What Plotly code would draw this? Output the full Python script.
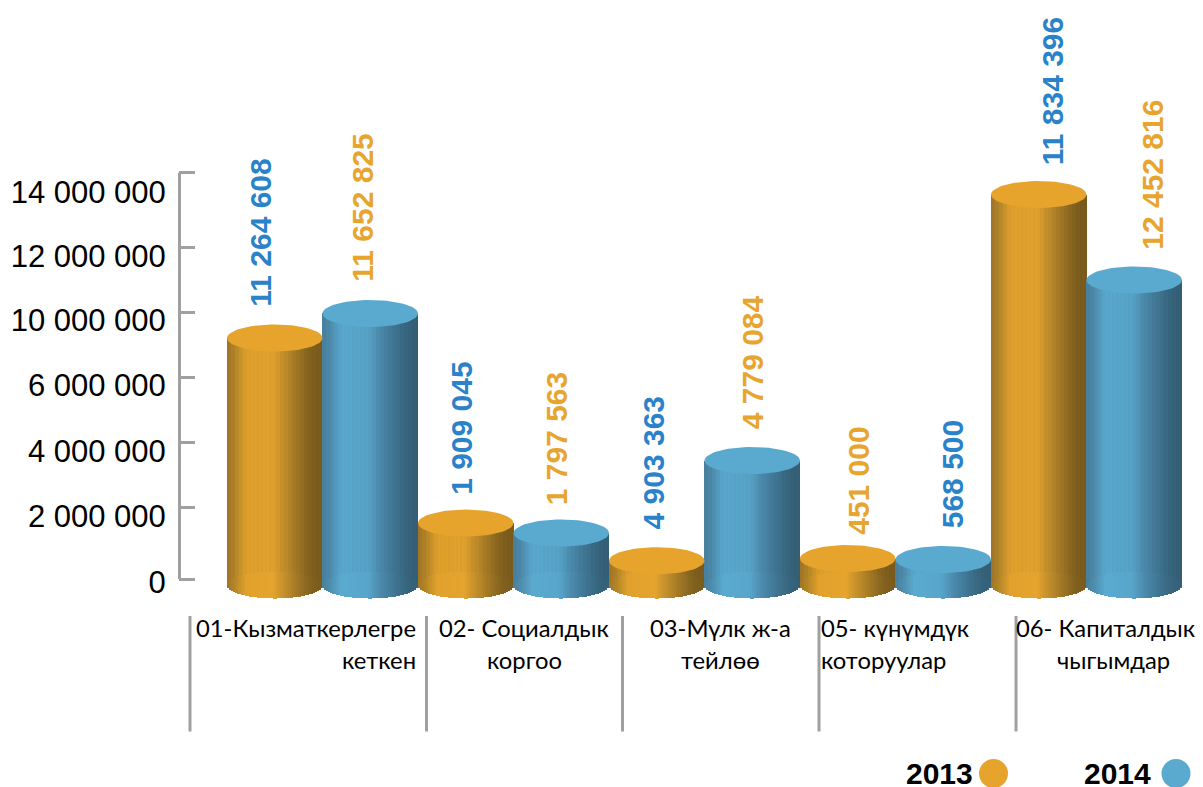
import plotly.graph_objects as go
import math

W, H = 1203, 787

# ---------- data ----------
years = ["2013", "2014"]
# heights of the cylinders, read against the drawn axis
heights_2013 = [7415000, 1720000, 563000, 630000, 11830000]
heights_2014 = [8170000, 1415000, 3646000, 600000, 9200000]
# printed labels (the reference prints them independent of height)
labels_2013 = ["11 264 608", "1 909 045", "4 903 363", "451 000", "11 834 396"]
labels_2014 = ["11 652 825", "1 797 563", "4 779 084", "568 500", "12 452 816"]
label_is_blue_2013 = [True, True, True, False, True]
label_is_blue_2014 = [False, False, False, True, False]
# axis
tick_marks = [0, 2215000, 4215000, 6185000, 8185000, 10185000, 12500000]
tick_label_vals = [-92000, 1938000, 3938000, 5969000, 7969000, 9938000, 11908000]
tick_texts = ["0", "2 000 000", "4 000 000", "6 000 000", "10 000 000", "12 000 000", "14 000 000"]
# category captions
cat_line1 = ["01-Кызматкерлегре", "02- Социалдык", "03-Мүлк ж-а", "05- күнүмдүк", "06- Капиталдык"]
cat_line2 = ["кеткен", "коргоо", "тейлөө", "которуулар", "чыгымдар"]

# ---------- layout constants ----------
ORANGE, BLUE = "#e6a42d", "#5aaad0"
LBL_BLUE, LBL_ORANGE = "#2a82c8", "#e8a52e"
GREY = "#a0a0a0"
PX_PER_UNIT_Y = 65 / 2e6          # pixels per value
Y0_PX = 579
X_C0 = 322.5; X_PITCH = 191        # pixel of category 0, pixels per category
RY = 13.5 / PX_PER_UNIT_Y          # ellipse half height, in value units
BASE = -6 / PX_PER_UNIT_Y          # centre of the bottom ellipse
BAR_W = 0.5
N = 48

grad_o = [(0, (160, 116, 38)), (.08, (180, 134, 40)), (.2, (226, 161, 44)), (.48, (229, 164, 46)),
          (.62, (192, 141, 42)), (.8, (148, 110, 34)), (.9, (128, 96, 30)), (1, (124, 92, 28))]
grad_b = [(0, (72, 128, 158)), (.08, (78, 140, 172)), (.2, (90, 170, 208)), (.48, (88, 165, 202)),
          (.62, (74, 136, 170)), (.8, (60, 112, 140)), (.9, (54, 100, 124)), (1, (52, 96, 120))]


def ramp(stops, t):
    for (a, ca), (b, cb) in zip(stops, stops[1:]):
        if t <= b:
            f = (t - a) / (b - a)
            return [ca[k] + (cb[k] - ca[k]) * f for k in range(3)]
    return list(stops[-1][1])


def css(c, k=1.0):
    return "rgb(%d,%d,%d)" % tuple(min(255, round(v * k)) for v in c)


def strips(heights, centre_off, stops, name):
    bx, by, bb, bc = [], [], [], []   # upper body
    cx, cy, cb, cc = [], [], [], []   # lower lit front cap
    step = BAR_W / N
    stripe = [1.0, .985, 1.0, .97, .995, .98]
    for g, h in enumerate(heights):
        for i in range(N):
            t = (i + .5) / N
            s = math.sqrt(max(0, 1 - (2 * t - 1) ** 2))
            x = g + centre_off - BAR_W / 2 + (i + .5) * step
            c = ramp(stops, t)
            low, mid = BASE - RY * s, BASE + RY * s
            cx.append(x); cb.append(low); cy.append(mid - low); cc.append(css(c))
            bx.append(x); bb.append(mid); by.append(h - mid); bc.append(css(c, .99 * stripe[i % 6]))
    wid = step * 1.25
    return [go.Bar(x=cx, y=cy, base=cb, width=wid, marker=dict(color=cc, line=dict(width=0)),
                   name=name, hoverinfo="skip", showlegend=False),
            go.Bar(x=bx, y=by, base=bb, width=wid, marker=dict(color=bc, line=dict(width=0)),
                   name=name, hoverinfo="skip", showlegend=False)]


def tops(heights, centre_off, colour, name):
    xs, ys = [], []
    for g, h in enumerate(heights):
        for k in range(73):
            a = 2 * math.pi * k / 72
            xs.append(g + centre_off + BAR_W / 2 * math.cos(a))
            ys.append(h + RY * math.sin(a))
        xs.append(None); ys.append(None)
    return go.Scatter(x=xs, y=ys, mode="lines", fill="toself", fillcolor=colour,
                      line=dict(width=0, color=colour), name=name, hoverinfo="skip", showlegend=False)


fig = go.Figure()
fig.add_traces(strips(heights_2013, -.25, grad_o, years[0]))
fig.add_traces(strips(heights_2014, .25, grad_b, years[1]))
fig.add_trace(tops(heights_2013, -.25, ORANGE, years[0]))
fig.add_trace(tops(heights_2014, .25, BLUE, years[1]))
# carries the axis that prints the tick labels
fig.add_trace(go.Scatter(x=[0], y=[0], yaxis="y2", mode="markers", marker=dict(opacity=0),
                         hoverinfo="skip", showlegend=False))

yr = [(Y0_PX - H) / PX_PER_UNIT_Y, Y0_PX / PX_PER_UNIT_Y]
xr = [(179 - X_C0) / X_PITCH, (W - X_C0) / X_PITCH]

# value-label nudges in pixels (x, y)
nudge_2013 = [(-15, 3), (-5, 0), (-3, 3), (10, -5), (14, 1)]
nudge_2014 = [(-8, 3), (-5, -1), (0, 3), (9, 3), (18, 2)]
ann = []
for off, hs, labs, blue, nudges in ((-.25, heights_2013, labels_2013, label_is_blue_2013, nudge_2013),
                                    (.25, heights_2014, labels_2014, label_is_blue_2014, nudge_2014)):
    for g in range(5):
        ann.append(dict(x=g + off, y=hs[g] + RY, xref="x", yref="y", text=labs[g], showarrow=False,
                        textangle=-90, yanchor="bottom", xanchor="center", borderpad=0,
                        xshift=nudges[g][0], yshift=nudges[g][1] + 14,
                        font=dict(family="Liberation Sans", size=30,
                                  color=LBL_BLUE if blue[g] else LBL_ORANGE, weight="bold")))

# category captions: (pixel x, anchor) per line
line1_pos = [(416, "right"), (524, "center"), (720, "center"), (821, "left"), (1106, "center")]
line2_pos = [(416, "right"), (524, "center"), (720, "center"), (821, "left"), (1113, "center")]
CAT_FONT = dict(family="Lato, Noto Sans", size=23.8, color="#000000")
for txts, pos, py in ((cat_line1, line1_pos, 628), (cat_line2, line2_pos, 660)):
    for t, (px, anch) in zip(txts, pos):
        ann.append(dict(x=px / W, y=1 - py / H, xref="paper", yref="paper", text=t, showarrow=False,
                        xanchor=anch, yanchor="middle", font=CAT_FONT, borderpad=0, borderwidth=0))
# legend
for yrtxt, right in zip(years, (975, 1153)):
    ann.append(dict(x=right / W, y=1 - 773 / H, xref="paper", yref="paper", text=yrtxt, showarrow=False,
                    xanchor="right", yanchor="middle",
                    font=dict(family="Liberation Sans", size=30, color="#000000", weight="bold")))

shapes = [dict(type="line", xref="paper", yref="y", x0=179.5 / W, x1=179.5 / W, y0=0, y1=tick_marks[-1],
               line=dict(color=GREY, width=3))]
for px in (190, 426.5, 622.5, 819, 1016):
    shapes.append(dict(type="line", xref="paper", yref="paper", x0=px / W, x1=px / W,
                       y0=1 - 616 / H, y1=1 - 731.5 / H, line=dict(color=GREY, width=3)))
for cx_, col in ((993.5, ORANGE), (1176, BLUE)):
    shapes.append(dict(type="circle", xref="paper", yref="paper", x0=(cx_ - 14.5) / W, x1=(cx_ + 14.5) / W,
                       y0=1 - 788 / H, y1=1 - 759 / H, fillcolor=col, line=dict(width=0)))

fig.update_layout(
    width=W, height=H, margin=dict(l=0, r=0, t=0, b=0), paper_bgcolor="white", plot_bgcolor="white",
    barmode="overlay", bargap=0, showlegend=False, annotations=ann, shapes=shapes,
    xaxis=dict(domain=[179 / W, 1], range=xr, visible=False, type="linear"),
    yaxis=dict(range=yr, showgrid=False, zeroline=False, showline=False, showticklabels=False,
               ticks="inside", ticklen=16, tickwidth=2.5, tickcolor=GREY, tickmode="array", tickvals=tick_marks),
    yaxis2=dict(range=yr, overlaying="y", side="left", anchor="x", showgrid=False, zeroline=False, showline=False,
                tickmode="array", tickvals=tick_label_vals, ticktext=tick_texts, ticks="outside", ticklen=6,
                tickwidth=0, tickcolor="rgba(0,0,0,0)",
                tickfont=dict(family="Liberation Sans", size=31, color="#000000")),
)
fig.write_html("out.html", config={"displayModeBar": False},
               post_script="document.body.style.margin='0';document.body.style.overflow='hidden';")
